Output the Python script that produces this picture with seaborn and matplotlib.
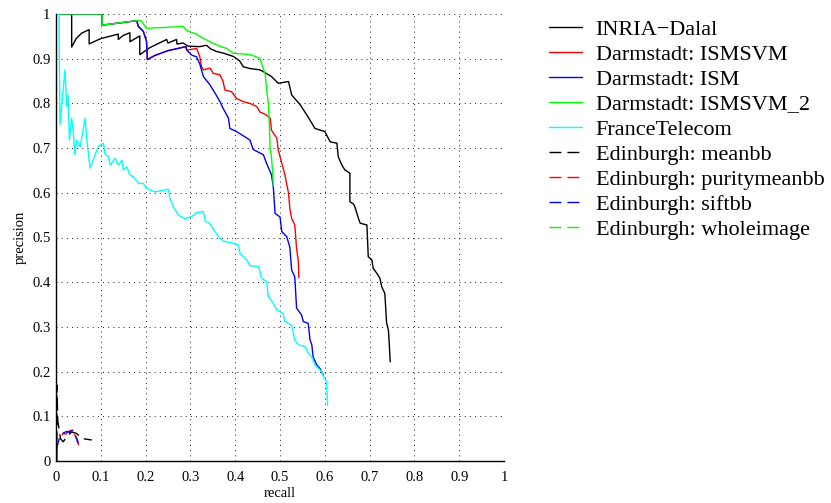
import numpy as np
import pandas as pd
import matplotlib
matplotlib.use("Agg")
import matplotlib.pyplot as plt
import seaborn as sns

# Precision / recall curves
inria_recall = [0.0, 0.035, 0.035, 0.045, 0.057, 0.074, 0.074, 0.10, 0.139, 0.139, 0.150, 0.165, 0.165, 0.187,
                0.187, 0.21, 0.247, 0.25, 0.269, 0.27, 0.284, 0.295, 0.321, 0.336, 0.345, 0.359, 0.375, 0.396,
                0.41, 0.418, 0.433, 0.455, 0.463, 0.481, 0.496, 0.519, 0.526, 0.545, 0.560, 0.578, 0.600, 0.612,
                0.627, 0.630, 0.638, 0.645, 0.656, 0.656, 0.664, 0.667, 0.675, 0.679, 0.694, 0.697, 0.705, 0.708,
                0.716, 0.723, 0.727, 0.734, 0.738, 0.742, 0.744, 0.746]
inria_precision = [1.0, 1.0, 0.926, 0.945, 0.957, 0.965, 0.933, 0.945, 0.955, 0.943, 0.952, 0.958, 0.938, 0.951,
                   0.909, 0.925, 0.943, 0.935, 0.943, 0.933, 0.935, 0.928, 0.927, 0.930, 0.922, 0.916, 0.912, 0.905,
                   0.895, 0.882, 0.878, 0.875, 0.871, 0.860, 0.845, 0.849, 0.819, 0.797, 0.774, 0.744, 0.737, 0.714,
                   0.711, 0.681, 0.662, 0.651, 0.644, 0.580, 0.575, 0.569, 0.543, 0.532, 0.528, 0.457, 0.450, 0.431,
                   0.420, 0.409, 0.390, 0.375, 0.308, 0.293, 0.260, 0.222]

ismsvm_recall = [0.0, 0.103, 0.103, 0.180, 0.184, 0.195, 0.202, 0.204, 0.22, 0.25, 0.29, 0.292, 0.314, 0.321,
                 0.325, 0.329, 0.344, 0.351, 0.366, 0.373, 0.377, 0.392, 0.403, 0.418, 0.433, 0.448, 0.455, 0.470,
                 0.478, 0.481, 0.493, 0.496, 0.504, 0.511, 0.519, 0.522, 0.526, 0.533, 0.537, 0.541, 0.542]
ismsvm_precision = [1.0, 1.0, 0.975, 0.985, 0.972, 0.961, 0.939, 0.898, 0.907, 0.918, 0.927, 0.919, 0.923, 0.904,
                    0.882, 0.875, 0.879, 0.867, 0.864, 0.849, 0.830, 0.826, 0.811, 0.804, 0.800, 0.793, 0.781, 0.774,
                    0.767, 0.740, 0.722, 0.696, 0.666, 0.640, 0.599, 0.565, 0.543, 0.528, 0.476, 0.446, 0.410]

ism_recall = [0.0, 0.103, 0.103, 0.180, 0.184, 0.195, 0.202, 0.204, 0.22, 0.25, 0.29, 0.292, 0.303, 0.314,
              0.321, 0.329, 0.344, 0.355, 0.366, 0.373, 0.385, 0.388, 0.403, 0.422, 0.433, 0.440, 0.463, 0.470,
              0.481, 0.485, 0.489, 0.500, 0.504, 0.515, 0.522, 0.526, 0.533, 0.537, 0.548, 0.552, 0.563, 0.567,
              0.571, 0.574, 0.582, 0.589, 0.593, 0.597]
ism_precision = [1.0, 1.0, 0.975, 0.985, 0.972, 0.961, 0.939, 0.898, 0.907, 0.918, 0.927, 0.919, 0.908, 0.904,
                 0.888, 0.860, 0.841, 0.823, 0.804, 0.789, 0.767, 0.744, 0.737, 0.725, 0.718, 0.697, 0.685, 0.666,
                 0.640, 0.614, 0.554, 0.546, 0.513, 0.502, 0.478, 0.427, 0.412, 0.342, 0.327, 0.312, 0.308, 0.271,
                 0.260, 0.233, 0.215, 0.207, 0.200, 0.192]

ismsvm2_recall = [0.0, 0.103, 0.103, 0.180, 0.19, 0.202, 0.284, 0.29, 0.299, 0.314, 0.321, 0.336, 0.351, 0.366,
                  0.381, 0.396, 0.426, 0.437, 0.455, 0.459, 0.467, 0.470, 0.474, 0.476, 0.478, 0.481, 0.484, 0.485]
ismsvm2_precision = [1.0, 1.0, 0.975, 0.985, 0.985, 0.968, 0.972, 0.965, 0.960, 0.955, 0.950, 0.942, 0.934, 0.928,
                     0.923, 0.912, 0.910, 0.908, 0.901, 0.889, 0.865, 0.835, 0.800, 0.759, 0.700, 0.680, 0.640, 0.615]

ft_recall = [0.0, 0.007, 0.007, 0.009, 0.020, 0.024, 0.027, 0.030, 0.035, 0.039, 0.042, 0.046, 0.054, 0.065,
             0.069, 0.076, 0.083, 0.094, 0.106, 0.109, 0.117, 0.121, 0.132, 0.139, 0.147, 0.150, 0.158, 0.165,
             0.173, 0.184, 0.195, 0.202, 0.221, 0.251, 0.254, 0.262, 0.273, 0.288, 0.303, 0.314, 0.329, 0.333,
             0.344, 0.355, 0.366, 0.377, 0.396, 0.407, 0.411, 0.426, 0.433, 0.452, 0.459, 0.470, 0.474, 0.485,
             0.493, 0.507, 0.511, 0.526, 0.533, 0.541, 0.556, 0.563, 0.571, 0.578, 0.593, 0.597, 0.604, 0.606]
ft_precision = [1.0, 1.0, 0.94, 0.752, 0.875, 0.793, 0.819, 0.718, 0.767, 0.733, 0.685, 0.718, 0.703, 0.767,
                0.718, 0.655, 0.673, 0.703, 0.711, 0.688, 0.681, 0.662, 0.677, 0.662, 0.673, 0.651, 0.658, 0.640,
                0.636, 0.621, 0.621, 0.610, 0.602, 0.608, 0.588, 0.569, 0.550, 0.542, 0.547, 0.556, 0.558, 0.537,
                0.530, 0.513, 0.498, 0.491, 0.487, 0.483, 0.464, 0.450, 0.437, 0.435, 0.409, 0.401, 0.368, 0.353,
                0.338, 0.330, 0.312, 0.304, 0.271, 0.260, 0.256, 0.241, 0.233, 0.215, 0.200, 0.189, 0.177, 0.125]

meanbb_recall = [0.002, 0.002, 0.004, 0.010, 0.016, 0.025, 0.035, 0.045, 0.060, 0.080]
meanbb_precision = [0.0, 0.17, 0.09, 0.05, 0.043, 0.055, 0.065, 0.062, 0.050, 0.047]

purity_recall = [0.001, 0.004, 0.009, 0.016, 0.022, 0.027, 0.033, 0.039, 0.042, 0.048, 0.052]
purity_precision = [0.02, 0.04, 0.051, 0.062, 0.060, 0.066, 0.068, 0.068, 0.058, 0.047, 0.028]

sift_recall = [0.001, 0.005, 0.010, 0.017, 0.024, 0.030, 0.036, 0.041, 0.044, 0.049]
sift_precision = [0.025, 0.045, 0.055, 0.063, 0.066, 0.064, 0.069, 0.066, 0.055, 0.040]

whole_recall = [0.001, 0.001, 0.002]
whole_precision = [0.0, 0.03, 0.048]

names = ["INRIA\u2212Dalal", "Darmstadt: ISMSVM", "Darmstadt: ISM", "Darmstadt: ISMSVM_2", "FranceTelecom",
         "Edinburgh: meanbb", "Edinburgh: puritymeanbb", "Edinburgh: siftbb", "Edinburgh: wholeimage"]
tick_labels = ["0", "0.1", "0.2", "0.3", "0.4", "0.5", "0.6", "0.7", "0.8", "0.9", "1"]

series = [
    (inria_recall, inria_precision, "#000000", "-"),
    (ismsvm_recall, ismsvm_precision, "#ff0000", "-"),
    (ism_recall, ism_precision, "#0000ff", "-"),
    (ismsvm2_recall, ismsvm2_precision, "#00ff00", "-"),
    (ft_recall, ft_precision, "#00ffff", "-"),
    (meanbb_recall, meanbb_precision, "#000000", "--"),
    (purity_recall, purity_precision, "#ff0000", "--"),
    (sift_recall, sift_precision, "#0000ff", "--"),
    (whole_recall, whole_precision, "#00ff00", "--"),
]

sns.set_theme(style="white")
plt.rcParams['font.family'] = ['Liberation Serif', 'DejaVu Serif']
plt.rcParams['mathtext.fontset'] = 'stix'

fig = plt.figure(figsize=(8.31, 5.03), dpi=100)
ax = fig.add_axes([56 / 831, 42 / 503, 448 / 831, 447 / 503])

for (rx, py, col, ls), name in zip(series, names):
    df = pd.DataFrame({"recall": rx, "precision": py})
    sns.lineplot(data=df, x="recall", y="precision", sort=False, estimator=None,
                 color=col, linewidth=1.0, label=name, ax=ax,
                 linestyle=(0, (8.6, 4.3)) if ls == "--" else "-")

ax.set_xlim(0, 1)
ax.set_ylim(0, 1)
ticks = [i / 10 for i in range(11)]
ax.set_xticks(ticks)
ax.set_yticks(ticks)
ax.set_xticklabels(tick_labels)
ax.set_yticklabels(tick_labels)
ax.tick_params(direction="in", length=3.5, width=0.8, colors="black", labelsize=10.5)
ax.tick_params(axis="x", pad=7.5)
ax.tick_params(axis="y", pad=4)
ax.grid(True, color="black", linewidth=0.6, linestyle=(0, (1.2, 5.0)))

for side in ["top", "right"]:
    ax.spines[side].set_visible(False)
for side in ["left", "bottom"]:
    ax.spines[side].set_color("black")
    ax.spines[side].set_linewidth(1.0)

ax.set_xlabel("recall", fontsize=10.5, labelpad=2, color="black")
ax.set_ylabel("precision", fontsize=10.5, labelpad=4, color="black")

leg = ax.legend(loc="upper left", bbox_to_anchor=(549 / 831, 1 - 19 / 503),
                bbox_transform=fig.transFigure, frameon=False, fontsize=16,
                handlelength=1.5, handletextpad=0.6, labelspacing=0.2,
                borderpad=0, borderaxespad=0)
for t in leg.get_texts():
    t.set_color("black")

fig.savefig("out.png", dpi=100, facecolor="white")
